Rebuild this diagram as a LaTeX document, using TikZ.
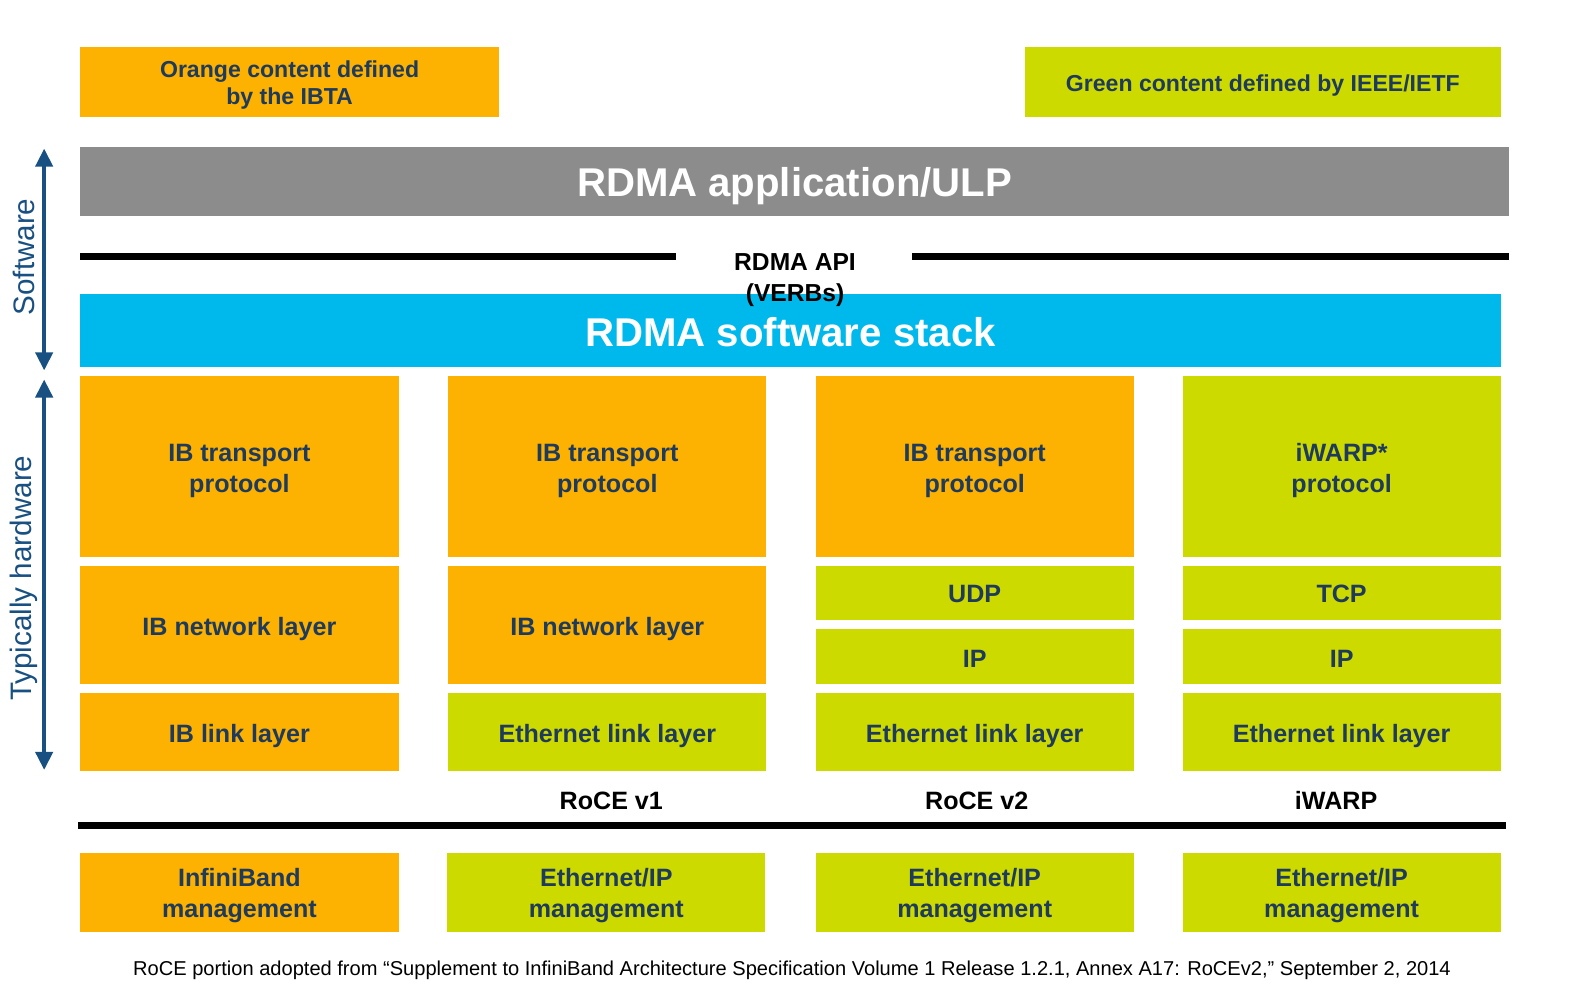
\documentclass[tikz,border=0pt]{standalone}
\usepackage{fontspec}
\setmainfont{Liberation Sans}
\usetikzlibrary{arrows.meta}
\definecolor{ibo}{RGB}{253,177,0}
\definecolor{ieg}{RGB}{205,218,0}
\definecolor{appg}{RGB}{140,140,140}
\definecolor{stackb}{RGB}{0,185,236}
\definecolor{navy}{RGB}{30,58,92}
\definecolor{arrowb}{RGB}{25,80,130}
% first baseline raised by #1 above the node centre; the box itself takes no height
\newcommand{\tb}[2]{\raisebox{#1}[0pt][0pt]{\begin{tabular}[t]{@{}c@{}}#2\end{tabular}}}
\tikzset{
  blk/.style={inner sep=0pt, text=navy, font=\fontsize{25}{31}\selectfont\bfseries, minimum width=317pt},
  obox/.style={blk, fill=ibo},
  gbox/.style={blk, fill=ieg},
  mgmt/.style={font=\fontsize{25}{31}\selectfont\bfseries},
  legend/.style={font=\fontsize{23}{26.5}\selectfont\bfseries, minimum height=70pt},
  bigbar/.style={inner sep=0pt, text=white, font=\fontsize{40}{46}\selectfont\bfseries},
  rule/.style={line width=7pt, black},
  impl/.style={font=\fontsize{25}{31.5}\selectfont\bfseries, text=black, inner sep=0pt},
  sidearrow/.style={line width=4pt, arrowb, {Triangle[width=17pt,length=18pt]}-{Triangle[width=17pt,length=18pt]}},
  sidelabel/.style={rotate=90, text=arrowb, font=\fontsize{29.5}{34}\selectfont, inner sep=0pt}
}
\begin{document}
\begin{tikzpicture}[x=1pt,y=-1pt]
\useasboundingbox (0,0) rectangle (1568,996);
% legend
\node[obox, legend, minimum width=417pt] (legO) at (288.5,82) {\tb{4.5pt}{Orange content defined\\by the IBTA}};
\node[gbox, legend, minimum width=474pt] (legG) at (1258,82) {\tb{-8.7pt}{Green content defined by IEEE/IETF}};
% application bar
\node[bigbar, fill=appg, minimum width=1423pt, minimum height=69pt] (app) at (791.5,180.5) {\tb{-15.4pt}{RDMA application/ULP}};
% API rules
\coordinate (apiL1) at (80,256);
\coordinate (apiL2) at (673,256);
\coordinate (apiR1) at (909,256);
\coordinate (apiR2) at (1503,256);
\draw[rule] (apiL1) -- (apiL2);
\draw[rule] (apiR1) -- (apiR2);
% software stack
\node[bigbar, fill=stackb, minimum width=1415pt, minimum height=73pt] (stack) at (787.5,329.5) {\tb{-15.3pt}{RDMA software stack}};
\node[impl, font=\fontsize{24.5}{31.5}\selectfont\bfseries] (api) at (792,269) {\tb{0pt}{RDMA API\\(VERBs)}};
% column 1: InfiniBand
\node[obox, minimum height=180pt] (c1t) at (238.5,465) {\tb{5.3pt}{IB transport\\protocol}};
\node[obox, minimum height=117pt] (c1n) at (238.5,622.5) {\tb{-10.5pt}{IB network layer}};
\node[obox, minimum height=78pt] (c1l) at (238.5,729) {\tb{-10.5pt}{IB link layer}};
% column 2: RoCE v1
\node[obox, minimum height=180pt] (c2t) at (605,465) {\tb{5.3pt}{IB transport\\protocol}};
\node[obox, minimum height=117pt] (c2n) at (605,622.5) {\tb{-10.5pt}{IB network layer}};
\node[gbox, minimum height=78pt] (c2l) at (605,729) {\tb{-10.5pt}{Ethernet link layer}};
% column 3: RoCE v2
\node[obox, minimum height=180pt] (c3t) at (971,465) {\tb{5.3pt}{IB transport\\protocol}};
\node[gbox, minimum height=54pt] (c3u) at (971,591) {\tb{-9.5pt}{UDP}};
\node[gbox, minimum height=54pt] (c3i) at (971,654) {\tb{-10.5pt}{IP}};
\node[gbox, minimum height=78pt] (c3l) at (971,729) {\tb{-10.5pt}{Ethernet link layer}};
% column 4: iWARP
\node[gbox, minimum height=180pt] (c4t) at (1336.5,465) {\tb{5.3pt}{iWARP*\\protocol}};
\node[gbox, minimum height=54pt] (c4u) at (1336.5,591) {\tb{-9.5pt}{TCP}};
\node[gbox, minimum height=54pt] (c4i) at (1336.5,654) {\tb{-10.5pt}{IP}};
\node[gbox, minimum height=78pt] (c4l) at (1336.5,729) {\tb{-10.5pt}{Ethernet link layer}};
% implementation labels (node centre on the baseline)
\node[impl] (v1) at (609,806) {\tb{0pt}{RoCE v1}};
\node[impl] (v2) at (973,806) {\tb{0pt}{RoCE v2}};
\node[impl] (iw) at (1331,806) {\tb{0pt}{iWARP}};
% bottom rule
\coordinate (bot1) at (78,822);
\coordinate (bot2) at (1500,822);
\draw[rule] (bot1) -- (bot2);
% management
\node[obox, mgmt, minimum height=78pt] (m1) at (238.5,889) {\tb{6.2pt}{InfiniBand\\management}};
\node[gbox, mgmt, minimum height=78pt] (m2) at (604,889) {\tb{6.2pt}{Ethernet/IP\\management}};
\node[gbox, mgmt, minimum height=78pt] (m3) at (971,889) {\tb{6.2pt}{Ethernet/IP\\management}};
\node[gbox, mgmt, minimum height=78pt] (m4) at (1336.5,889) {\tb{6.2pt}{Ethernet/IP\\management}};
% footnote
\node[inner sep=0pt, font=\fontsize{20}{23}\selectfont] (foot) at (789,967) {RoCE portion adopted from “Supplement to InfiniBand Architecture Specification Volume 1 Release 1.2.1, Annex A17: RoCEv2,” September 2, 2014};
% side arrows
\coordinate (sw1) at (44,148);
\coordinate (sw2) at (44,369);
\coordinate (hw1) at (44,378);
\coordinate (hw2) at (44,767);
\draw[sidearrow] (sw1) -- (sw2);
\draw[sidearrow] (hw1) -- (hw2);
\node[sidelabel] (swl) at (24,256) {Software};
\node[sidelabel] (hwl) at (24,576) {Typically hardware};
\end{tikzpicture}
\end{document}
